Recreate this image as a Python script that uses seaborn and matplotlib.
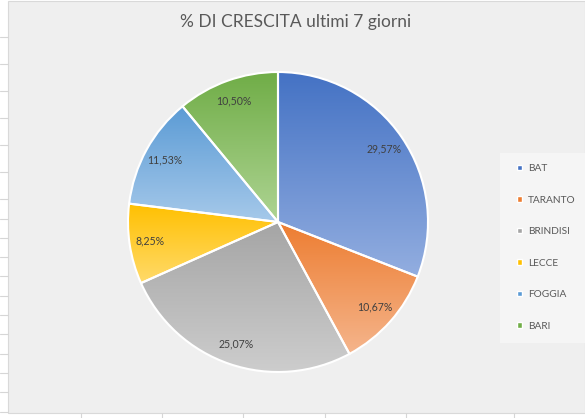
import numpy as np
import matplotlib
matplotlib.use("Agg")
import matplotlib.pyplot as plt
import seaborn as sns
from matplotlib.patches import Rectangle, Wedge, Patch
from matplotlib.colors import LinearSegmentedColormap
from matplotlib.lines import Line2D

# ---- data ----
categories = ["BAT", "TARANTO", "BRINDISI", "LECCE", "FOGGIA", "BARI"]
values = [29.57, 10.67, 25.07, 8.25, 11.53, 10.50]
label_texts = ["29,57%", "10,67%", "25,07%", "8,25%", "11,53%", "10,50%"]
title = "% DI CRESCITA ultimi 7 giorni"

top_colors = ["#4472C4", "#ED7D31", "#A5A5A5", "#FFC000", "#5B9BD5", "#70AD47"]
bottom_colors = ["#93AEE0", "#F5B58C", "#CDCDCD", "#FFDA6A", "#A6C9EA", "#AED493"]

sns.set_theme(style="white")
plt.rcParams["font.family"] = ["Lato", "DejaVu Sans"]

W, H = 585, 418
fig = plt.figure(figsize=(W / 100, H / 100), dpi=100)
fig.patch.set_facecolor("white")

# spreadsheet grid fragments around chart
for yy in [37, 64, 91, 118, 145, 172, 199, 219, 238, 257, 276, 296, 315, 334, 354, 373, 392, 412]:
    fig.add_artist(Line2D([0, 8 / W], [1 - yy / H] * 2, color="#d6d6d6", lw=0.8))
for xx in [81, 162, 243, 325, 406, 514]:
    fig.add_artist(Line2D([xx / W] * 2, [0, 5 / H], color="#d6d6d6", lw=0.8))

# chart area
fig.add_artist(Rectangle((8 / W, 5 / H), (W - 8) / W, (H - 6) / H,
                         transform=fig.transFigure, facecolor="#efefef",
                         edgecolor="#d9d9d9", lw=0.8, zorder=0))
# legend panel
fig.add_artist(Rectangle((500 / W, 1 - 343 / H), 85 / W, 190 / H,
                         transform=fig.transFigure, facecolor="#f5f5f5",
                         edgecolor="none", zorder=0.5))

fig.text(296 / W, 1 - 22 / H, title, ha="center", va="center",
         fontsize=12.5, color="#595959")

cx, cy, r = 278, 222, 150
ax = fig.add_axes([(cx - r) / W, (H - cy - r) / H, 2 * r / W, 2 * r / H])
ax.set_facecolor("none")

wedges, texts = ax.pie(values, labels=label_texts, colors=top_colors,
                       startangle=90, counterclock=False, labeldistance=0.86,
                       wedgeprops=dict(linewidth=0),
                       textprops=dict(fontsize=7.6, color="#404040"))

grad = np.linspace(0, 1, 256).reshape(-1, 1)
for w, c0, c1 in zip(wedges, top_colors, bottom_colors):
    ext = w.get_path().get_extents()
    cmap = LinearSegmentedColormap.from_list("g", [c0, c1])
    im = ax.imshow(grad, extent=(ext.x0, ext.x1, ext.y0, ext.y1), origin="upper",
                   cmap=cmap, aspect="auto", zorder=2, interpolation="bilinear")
    im.set_clip_path(w)
    ax.add_patch(Wedge(w.center, w.r, w.theta1, w.theta2, fill=False,
                       edgecolor="white", lw=1.5, zorder=3, clip_on=False))

for t in texts:
    t.set_ha("center")
    t.set_va("center")
    t.set_zorder(5)

ax.set_xlim(-1, 1)
ax.set_ylim(-1, 1)
ax.set_aspect("equal")
ax.axis("off")

handles = [Patch(facecolor=c) for c in top_colors]
fig.legend(handles, categories, loc="upper left",
           bbox_to_anchor=(514 / W, 1 - 161 / H), frameon=False,
           fontsize=7.3, labelcolor="#595959", handlelength=0.45,
           handleheight=0.45, handletextpad=0.6, labelspacing=2.22,
           borderpad=0.3, borderaxespad=0)

fig.savefig("out.png", dpi=100)
